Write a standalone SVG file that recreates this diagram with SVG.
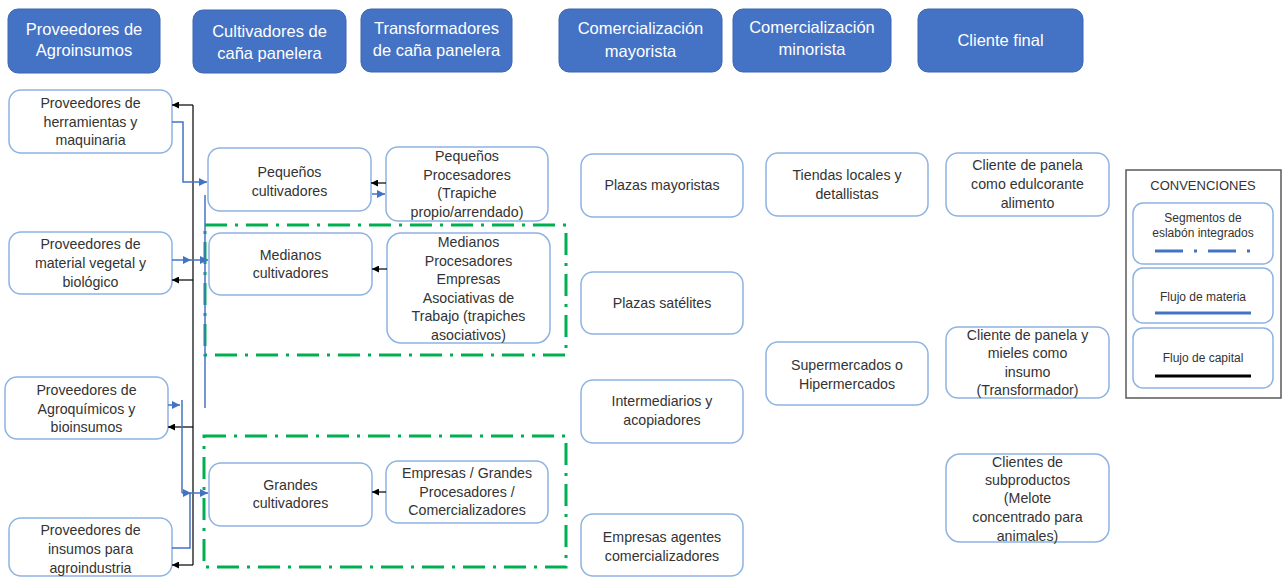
<svg xmlns="http://www.w3.org/2000/svg" width="1282" height="577" viewBox="0 0 1282 577">
<style>
.hdr rect{fill:#4472C4;stroke:#3B65B0;stroke-width:1}
.hdr text{fill:#FFFFFF;font-family:"Liberation Sans",Arial,sans-serif;font-size:16.5px;text-anchor:middle}
.nd rect{fill:#FFFFFF;stroke:#8DB3E2;stroke-width:1.5}
.nd text{fill:#333333;font-family:"Liberation Sans",Arial,sans-serif;font-size:14.2px;text-anchor:middle}
.blk{fill:none;stroke:#000000;stroke-width:1.2}
.blu{fill:none;stroke:#4472C4;stroke-width:1.5}
.grp{fill:none;stroke:#00B050;stroke-width:3;stroke-dasharray:22 8 3 8}
.lg text{fill:#333333;font-family:"Liberation Sans",Arial,sans-serif;text-anchor:middle}
</style>
<defs>
<marker id="ab" viewBox="0 0 10 10" refX="10" refY="5" markerWidth="7" markerHeight="7" markerUnits="userSpaceOnUse" orient="auto"><path d="M0,0 L10,5 L0,10 z" fill="#000000"/></marker>
<marker id="au" viewBox="0 0 10 10" refX="10" refY="5" markerWidth="8" markerHeight="8" markerUnits="userSpaceOnUse" orient="auto"><path d="M0,0 L10,5 L0,10 z" fill="#4472C4"/></marker>
</defs>

<!-- Headers -->
<g id="h1" class="hdr"><rect x="8" y="9" width="152" height="64" rx="10"/><text x="84" y="35">Proveedores de</text><text x="84" y="56">Agroinsumos</text></g>
<g id="h2" class="hdr"><rect x="193" y="10" width="153" height="63" rx="10"/><text x="269.5" y="37">Cultivadores de</text><text x="269.5" y="59">caña panelera</text></g>
<g id="h3" class="hdr"><rect x="361" y="9" width="151" height="63" rx="10"/><text x="436.5" y="34">Transformadores</text><text x="436.5" y="56">de caña panelera</text></g>
<g id="h4" class="hdr"><rect x="559" y="9" width="163" height="63" rx="10"/><text x="640.5" y="34">Comercialización</text><text x="640.5" y="57">mayorista</text></g>
<g id="h5" class="hdr"><rect x="733" y="9" width="158" height="63" rx="10"/><text x="812" y="33">Comercialización</text><text x="812" y="55">minorista</text></g>
<g id="h6" class="hdr"><rect x="918" y="9" width="165" height="63" rx="10"/><text x="1000.5" y="46">Cliente final</text></g>

<!-- Green dash-dot groups -->
<g id="grupos">
<rect class="grp" x="205" y="225" width="361" height="130"/>
<rect class="grp" x="204" y="436" width="362" height="131"/>
</g>

<!-- Left column -->
<g id="n_herr" class="nd"><rect x="9" y="90" width="163" height="63" rx="12"/><text x="90.5" y="108">Proveedores de</text><text x="90.5" y="127">herramientas y</text><text x="90.5" y="145">maquinaria</text></g>
<g id="n_mat" class="nd"><rect x="9" y="232" width="163" height="62" rx="12"/><text x="90.5" y="249">Proveedores de</text><text x="90.5" y="268">material vegetal y</text><text x="90.5" y="287">biológico</text></g>
<g id="n_agro" class="nd"><rect x="5" y="377" width="163" height="62" rx="12"/><text x="86.5" y="395">Proveedores de</text><text x="86.5" y="414">Agroquímicos y</text><text x="86.5" y="432">bioinsumos</text></g>
<g id="n_ins" class="nd"><rect x="9" y="518" width="163" height="58" rx="12"/><text x="90.5" y="535">Proveedores de</text><text x="90.5" y="554">insumos para</text><text x="90.5" y="573">agroindustria</text></g>

<!-- Cultivators -->
<g id="n_pc" class="nd"><rect x="208" y="148" width="163" height="63" rx="12"/><text x="289.5" y="177">Pequeños</text><text x="289.5" y="196">cultivadores</text></g>
<g id="n_mc" class="nd"><rect x="209" y="233" width="163" height="62" rx="12"/><text x="290.5" y="260">Medianos</text><text x="290.5" y="278">cultivadores</text></g>
<g id="n_gc" class="nd"><rect x="209" y="463" width="163" height="63" rx="12"/><text x="290.5" y="490">Grandes</text><text x="290.5" y="508">cultivadores</text></g>

<!-- Processors -->
<g id="n_pp" class="nd"><rect x="386" y="147" width="162" height="74" rx="12"/><text x="467" y="161">Pequeños</text><text x="467" y="180">Procesadores</text><text x="467" y="198">(Trapiche</text><text x="467" y="217">propio/arrendado)</text></g>
<g id="n_mp" class="nd"><rect x="387" y="233" width="163" height="110" rx="14"/><text x="468.5" y="247">Medianos</text><text x="468.5" y="266">Procesadores</text><text x="468.5" y="284">Empresas</text><text x="468.5" y="303">Asociativas de</text><text x="468.5" y="321">Trabajo (trapiches</text><text x="468.5" y="340">asociativos)</text></g>
<g id="n_gp" class="nd"><rect x="386" y="461" width="162" height="62" rx="12"/><text x="467" y="478">Empresas / Grandes</text><text x="467" y="497">Procesadores /</text><text x="467" y="515">Comercializadores</text></g>

<!-- Wholesale -->
<g id="n_pm" class="nd"><rect x="581" y="154" width="162" height="63" rx="12"/><text x="662" y="190">Plazas mayoristas</text></g>
<g id="n_ps" class="nd"><rect x="581" y="272" width="162" height="62" rx="12"/><text x="662" y="308">Plazas satélites</text></g>
<g id="n_int" class="nd"><rect x="581" y="380" width="162" height="63" rx="12"/><text x="662" y="406">Intermediarios y</text><text x="662" y="425">acopiadores</text></g>
<g id="n_eac" class="nd"><rect x="581" y="514" width="162" height="62" rx="12"/><text x="662" y="542">Empresas agentes</text><text x="662" y="561">comercializadores</text></g>

<!-- Retail -->
<g id="n_tl" class="nd"><rect x="766" y="153" width="162" height="63" rx="12"/><text x="847" y="180">Tiendas locales y</text><text x="847" y="199">detallistas</text></g>
<g id="n_sm" class="nd"><rect x="766" y="342" width="162" height="63" rx="12"/><text x="847" y="370">Supermercados o</text><text x="847" y="389">Hipermercados</text></g>

<!-- Final clients -->
<g id="n_c1" class="nd"><rect x="946" y="153" width="163" height="63" rx="12"/><text x="1027.5" y="170">Cliente de panela</text><text x="1027.5" y="189">como edulcorante</text><text x="1027.5" y="208">alimento</text></g>
<g id="n_c2" class="nd"><rect x="946" y="327" width="163" height="71" rx="12"/><text x="1027.5" y="340">Cliente de panela y</text><text x="1027.5" y="358">mieles como</text><text x="1027.5" y="377">insumo</text><text x="1027.5" y="395">(Transformador)</text></g>
<g id="n_c3" class="nd"><rect x="946" y="454" width="163" height="88" rx="14"/><text x="1027.5" y="467">Clientes de</text><text x="1027.5" y="485">subproductos</text><text x="1027.5" y="503">(Melote</text><text x="1027.5" y="522">concentrado para</text><text x="1027.5" y="541">animales)</text></g>

<!-- Connectors -->
<g id="connectors">
<path class="blk" d="M193,105 V565"/>
<path class="blk" d="M193,105 H172" marker-end="url(#ab)"/>
<path class="blk" d="M193,280 H172" marker-end="url(#ab)"/>
<path class="blk" d="M193,427 H168" marker-end="url(#ab)"/>
<path class="blk" d="M193,565 H172" marker-end="url(#ab)"/>
<path class="blk" d="M386,183 H371" marker-end="url(#ab)"/>
<path class="blk" d="M387,269 H372" marker-end="url(#ab)"/>
<path class="blk" d="M386,492 H372" marker-end="url(#ab)"/>

<path class="blu" d="M172,122 H183 V182 H207" marker-end="url(#au)"/>
<path class="blu" d="M172,260 H191" marker-end="url(#au)"/>
<path class="blu" d="M191,260 H208" marker-end="url(#au)"/>
<path class="blu" d="M205,195 V408"/>
<path class="blu" d="M168,405 H180" marker-end="url(#au)"/>
<path class="blu" d="M182,400 V493"/>
<path class="blu" d="M182,493 H191" marker-end="url(#au)"/>
<path class="blu" d="M191,493 H208" marker-end="url(#au)"/>
<path class="blu" d="M172,548 H190 V493"/>
<path class="blu" d="M372,194 H385" marker-end="url(#au)"/>
</g>

<!-- Legend -->
<g id="legend" class="lg">
<rect x="1126" y="170" width="155" height="228" fill="#FFFFFF" stroke="#595959" stroke-width="1.5"/>
<text x="1203" y="190" font-size="13px">CONVENCIONES</text>
<rect x="1133" y="203" width="140" height="61" rx="10" fill="#FFFFFF" stroke="#8DB3E2" stroke-width="1.5"/>
<text x="1203" y="222" font-size="12px">Segmentos de</text>
<text x="1203" y="237" font-size="12px">eslabón integrados</text>
<line x1="1155" y1="251" x2="1252" y2="251" stroke="#4472C4" stroke-width="3" stroke-dasharray="28 11 3 11"/>
<rect x="1133" y="268" width="140" height="55" rx="10" fill="#FFFFFF" stroke="#8DB3E2" stroke-width="1.5"/>
<text x="1203" y="301" font-size="12px">Flujo de materia</text>
<line x1="1155" y1="313" x2="1251" y2="313" stroke="#4472C4" stroke-width="3"/>
<rect x="1133" y="328" width="140" height="60" rx="10" fill="#FFFFFF" stroke="#8DB3E2" stroke-width="1.5"/>
<text x="1203" y="362" font-size="12px">Flujo de capital</text>
<line x1="1155" y1="376" x2="1251" y2="376" stroke="#000000" stroke-width="3"/>
</g>
</svg>
